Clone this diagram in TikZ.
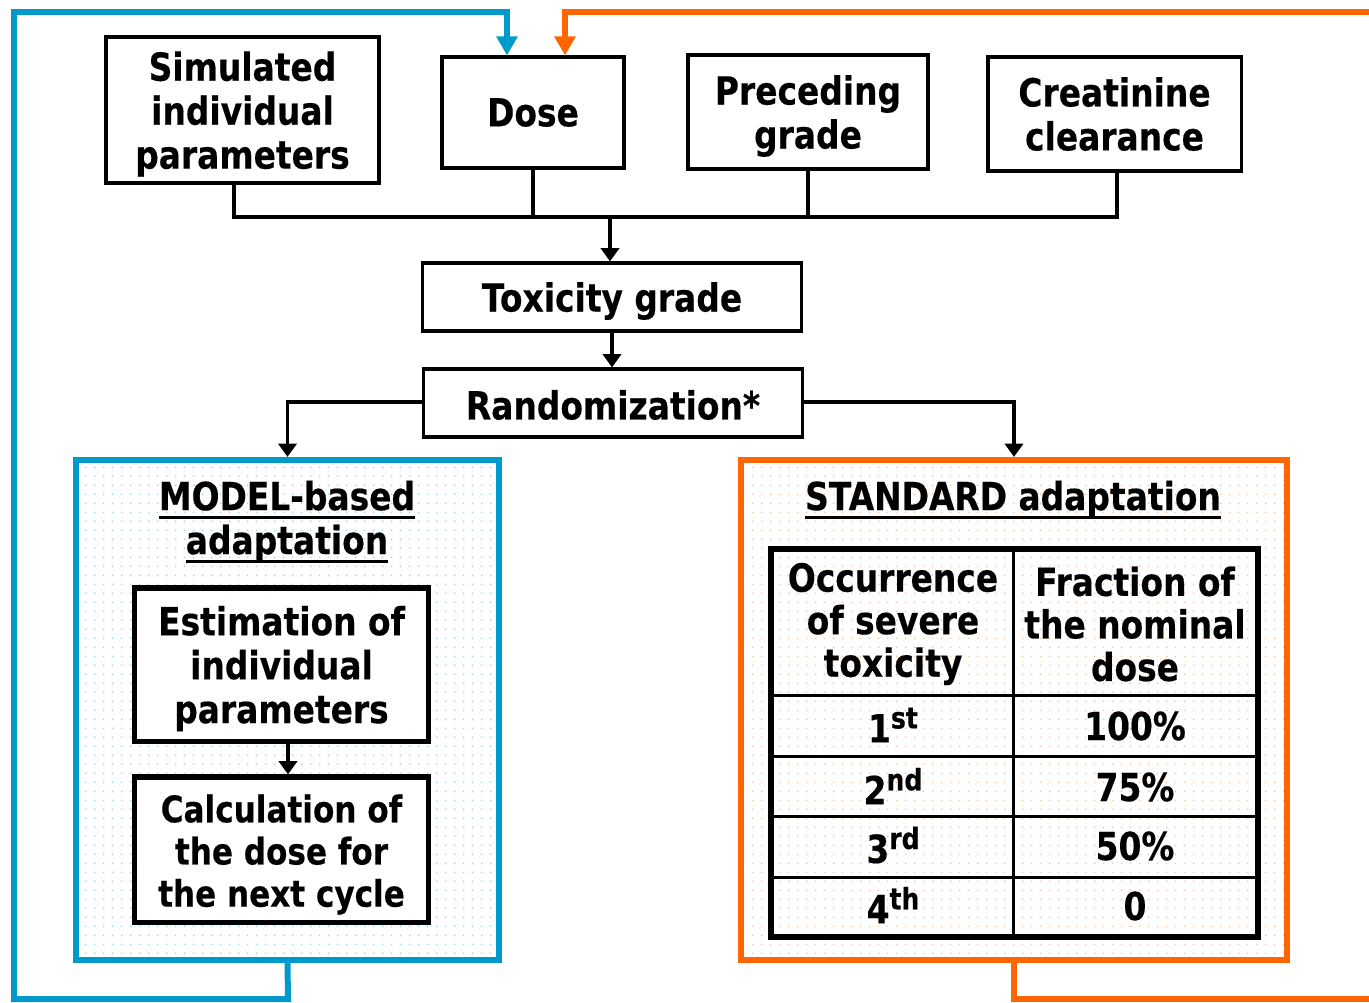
\documentclass[tikz,border=0pt]{standalone}
\usepackage{fontspec}
\setmainfont{DejaVu Sans}[FakeStretch=0.85,FakeBold=0.35]
\usetikzlibrary{arrows.meta,patterns.meta}
\definecolor{loopblue}{HTML}{0099CC}
\definecolor{looporange}{HTML}{FF6600}
\definecolor{dotblue}{HTML}{9CD6EE}
\definecolor{dotorange}{HTML}{F8C39A}
\pgfdeclarepattern{name=sparsedots,type=uncolored,
  bottom left={\pgfpoint{0pt}{0pt}},top right={\pgfpoint{2.6pt}{2.6pt}},
  tile size={\pgfpoint{2.6pt}{2.6pt}},
  code={\pgfpathrectangle{\pgfpoint{0.9pt}{0.9pt}}{\pgfpoint{0.45pt}{0.45pt}}\pgfusepath{fill}}}
\newcommand\ulined[1]{\setbox0\hbox{#1}\rlap{\raisebox{-2.6pt}{\rule{\wd0}{0.85pt}}}\box0}
\newcommand\ordsup[1]{\raisebox{0.36em}{\fontsize{8.4}{8.4}\selectfont #1}}
\tikzset{
  every node/.style={font=\fontsize{11}{12.5}\selectfont\bfseries,align=center,inner sep=0pt},
  inbox/.style={draw,line width=0.9pt,fill=white},
  subbox/.style={draw,line width=1.45pt,fill=white},
  conn/.style={line width=0.95pt},
  arr/.style={conn,-{Triangle[length=3.8pt,width=5.2pt]}},
  blueloop/.style={draw=loopblue,line width=1.7pt},
  orangeloop/.style={draw=looporange,line width=1.7pt},
  looparr/.style={-{Triangle[length=5.4pt,width=5.8pt]}},
  lower/.style={yshift=-0.04cm},
}
\begin{document}
\begin{tikzpicture}[x=0.01cm,y=-0.01cm]
\useasboundingbox (0,0) rectangle (1369,1002);
\clip (0,0) rectangle (1369,1002);

% input boxes
\node[inbox,minimum width=2.73cm,minimum height=1.46cm] (sim) at (242.5,110) {};
\node[lower] (simtxt) at (sim.center) {Simulated\\individual\\parameters};
\node[inbox,minimum width=1.82cm,minimum height=1.11cm] (dose) at (533,112.5) {};
\node (dosetxt) at (dose.center) {Dose};
\node[inbox,minimum width=2.40cm,minimum height=1.14cm] (prec) at (808,112) {};
\node[lower] (prectxt) at (prec.center) {Preceding\\grade};
\node[inbox,minimum width=2.53cm,minimum height=1.14cm] (cre) at (1114.5,114) {};
\node (cretxt) at (cre.center) {Creatinine\\clearance};

\node[inbox,minimum width=3.78cm,minimum height=0.68cm] (tox) at (612,297) {};
\node[lower] (toxtxt) at (tox.center) {Toxicity grade};
\node[inbox,minimum width=3.78cm,minimum height=0.68cm] (rand) at (613,403) {};
\node[yshift=-0.02cm] (randtxt) at (rand.center) {Randomization*};

% collecting bus
\coordinate (busL) at (234,217);
\coordinate (busR) at (1117,217);
\coordinate (busM) at (610,217);
\draw[conn] (sim.south -| busL) -- (busL) -- (busR) -- (cre.south -| busR);
\draw[conn] (dose.south) -- (dose.south |- busL);
\draw[conn] (prec.south) -- (prec.south |- busL);
\draw[arr] (busM) -- (tox.north -| busM);
\draw[arr] (tox.south) -- (tox.south |- rand.north);

% the two adaptation branches
\node[draw=loopblue,line width=1.7pt,pattern=sparsedots,pattern color=dotblue,
  minimum width=4.23cm,minimum height=5.0cm] (model) at (287.5,710) {};
\node[draw=looporange,line width=1.7pt,pattern=sparsedots,pattern color=dotorange,
  minimum width=5.46cm,minimum height=5.0cm] (std) at (1014,710) {};
\draw[arr] ([yshift=0.01cm]rand.west) -| (model.north);
\draw[arr] ([yshift=0.01cm]rand.east) -| (std.north);

% model-based branch
\node (mtitle) at (287,522) {\ulined{MODEL-based}\\\ulined{adaptation}};
\node[subbox,minimum width=2.93cm,minimum height=1.53cm] (est) at (281.5,664.5) {};
\node[lower] (esttxt) at (est.center) {Estimation of\\individual\\parameters};
\node[subbox,minimum width=2.93cm,minimum height=1.45cm] (calc) at (281.5,849.5) {};
\node[yshift=-0.05cm,font=\fontsize{10.4}{12}\selectfont\bfseries] (calctxt) at (calc.center) {Calculation of\\the dose for\\the next cycle};
\draw[arr] (est.south -| 288,0) -- (calc.north -| 288,0);

% standard branch
\node (stitle) at (1013,500) {\ulined{STANDARD adaptation}};
\draw[line width=0.85pt] (1013,549) -- (1013,937)
  (771,695) -- (1258,695) (771,756) -- (1258,756)
  (771,816) -- (1258,816) (771,877) -- (1258,877);
\draw[line width=1.45pt] (771,549) rectangle (1258,937);
\node[font=\fontsize{11}{12.1}\selectfont\bfseries] (h1) at (893,624) {Occurrence\\of severe\\toxicity};
\node[font=\fontsize{11}{12.1}\selectfont\bfseries] (h2) at (1135,624) {Fraction of\\the nominal\\dose};
\node (r1a) at (893,725) {1\ordsup{st}};
\node (r1b) at (1135,726) {100\%};
\node (r2a) at (893,786) {2\ordsup{nd}};
\node (r2b) at (1135,787) {75\%};
\node (r3a) at (893,845) {3\ordsup{rd}};
\node (r3b) at (1135,846) {50\%};
\node (r4a) at (893,905) {4\ordsup{th}};
\node (r4b) at (1135,906) {0};

% feedback loops back to the dose
\coordinate (bl1) at (288,999);
\coordinate (bl2) at (14,999);
\coordinate (bl3) at (14,12);
\coordinate (bl4) at (507,12);
\draw[blueloop,looparr] (model.south) -- (bl1) -- (bl2) -- (bl3) -- (bl4) -- (bl4 |- dose.north);
\coordinate (ol1) at (1014,999);
\coordinate (ol2) at (1372,999);
\coordinate (ol3) at (1372,12);
\coordinate (ol4) at (565,12);
\draw[orangeloop,looparr] (std.south) -- (ol1) -- (ol2) -- (ol3) -- (ol4) -- (ol4 |- dose.north);
\end{tikzpicture}
\end{document}
